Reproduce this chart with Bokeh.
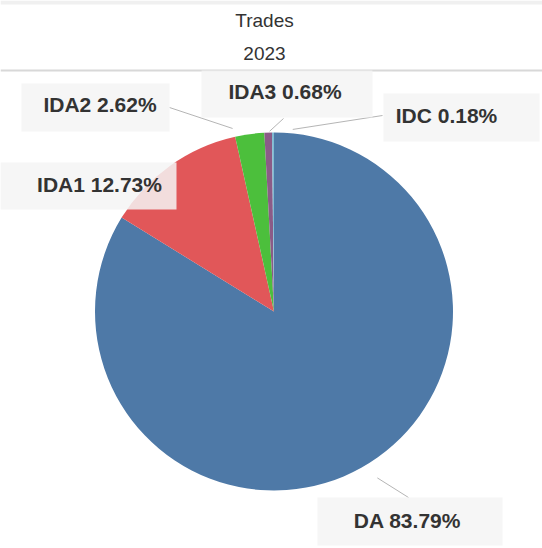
import numpy as np
from bokeh.plotting import figure
from bokeh.models import Range1d
from bokeh.embed import file_html
from bokeh.resources import INLINE
from bokeh.core.properties import value

# ---- data ----
categories = ["DA", "IDA1", "IDA2", "IDA3", "IDC"]
shares = [83.79, 12.73, 2.62, 0.68, 0.18]
colors = ["#4e79a7", "#e15759", "#4cbf3c", "#8b5b87", "#7fbad2"]
title_lines = ["Trades", "2023"]

# ---- layout (page pixel coordinates of the reference) ----
W, H = 542, 548
PIE_CX, PIE_CY, PIE_R = 273.5, 311.0, 179.0
# label text centres, label boxes (left, right, top, bottom), leader anchors + gaps
label_pos = {"DA": (407, 520), "IDA1": (99, 184), "IDA2": (99.5, 104),
             "IDA3": (284.5, 91), "IDC": (446, 115)}
label_box = {"DA": (317, 502, 497, 545), "IDA1": (0, 176, 162, 209),
             "IDA2": (21, 169, 83, 131), "IDA3": (201, 372, 70, 117),
             "IDC": (383, 539, 93, 141)}
leader = {"DA": ((408, 497), 19), "IDA2": ((169, 107), 18),
          "IDA3": ((283, 118), 2), "IDC": ((382, 115), 20)}
title_pos = [(264, 20), (264, 53)]


def X(ax):
    return ax


def Y(ay):
    return H - ay


p = figure(width=W, height=H, x_range=Range1d(0, W), y_range=Range1d(0, H),
           output_backend="svg", toolbar_location=None, min_border=0,
           x_axis_location=None, y_axis_location=None)
p.grid.visible = False
p.outline_line_color = None
p.background_fill_color = "white"
p.border_fill_color = "white"

# top band and header separator
p.quad(left=[0], right=[W], top=[Y(0)], bottom=[Y(4)], fill_color="#f0f0f0",
       line_color=None)
p.segment(x0=[0], y0=[Y(70)], x1=[W], y1=[Y(70)], line_color="#d8d8d8", line_width=2)

# pie
frac = np.array(shares) / np.sum(shares)
cum = np.concatenate([[0.0], np.cumsum(frac)])
start = np.pi / 2 - 2 * np.pi * cum[:-1]
end = np.pi / 2 - 2 * np.pi * cum[1:]
p.wedge(x=X(PIE_CX), y=Y(PIE_CY), radius=PIE_R, radius_units="screen",
        start_angle=start, end_angle=end, direction="clock",
        fill_color=colors, line_color=None)

# leader lines
x0s, y0s, x1s, y1s = [], [], [], []
for i, c in enumerate(categories):
    if c not in leader:
        continue
    theta = 2 * np.pi * (cum[i] + frac[i] / 2)
    mx = X(PIE_CX) + PIE_R * np.sin(theta)
    my = Y(PIE_CY) + PIE_R * np.cos(theta)
    (ax, ay), gap = leader[c]
    px, py = X(ax), Y(ay)
    d = np.hypot(px - mx, py - my)
    ix = mx + (px - mx) * gap / d
    iy = my + (py - my) * gap / d
    x0s.append(px); y0s.append(py); x1s.append(ix); y1s.append(iy)
p.segment(x0=x0s, y0=y0s, x1=x1s, y1=y1s, line_color="#b5b5b5", line_width=1)

# label boxes
L = [X(label_box[c][0]) for c in categories]
R = [X(label_box[c][1]) for c in categories]
T = [Y(label_box[c][2]) for c in categories]
B = [Y(label_box[c][3]) for c in categories]
p.quad(left=L, right=R, top=T, bottom=B, fill_color="#f5f5f5", fill_alpha=0.85,
       line_color=None)

# label texts
labels = [f"{c} {s:.2f}%" for c, s in zip(categories, shares)]
p.text(x=[X(label_pos[c][0]) for c in categories],
       y=[Y(label_pos[c][1]) for c in categories],
       text=labels, text_align="center", text_baseline="middle",
       text_font=value("Liberation Sans"), text_font_style="bold",
       text_font_size="21px", text_color="#333333")

# title
p.text(x=[X(tp[0]) for tp in title_pos], y=[Y(tp[1]) for tp in title_pos],
       text=title_lines, text_align="center", text_baseline="middle",
       text_font=value("Liberation Sans"), text_font_size="19px",
       text_color="#333333")

open("out.html", "w").write(file_html(p, INLINE))
